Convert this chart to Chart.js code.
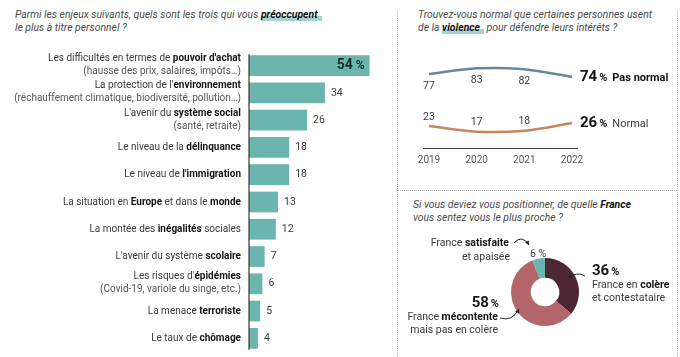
<!DOCTYPE html>
<html><head><meta charset="utf-8">
<script src="https://cdn.jsdelivr.net/npm/chart.js@4/dist/chart.umd.min.js"></script>
<style>
html,body{margin:0;padding:0;background:#fff;width:680px;height:357px;overflow:hidden;font-family:Roboto,sans-serif;}
.t{position:absolute;font-style:italic;font-size:10.4px;line-height:13px;color:#4a4a4a;white-space:nowrap}
.t b{color:#111;font-weight:700}
.hl{background:linear-gradient(transparent 58%, rgba(107,181,176,.6) 58%);padding-right:4px}
canvas{position:absolute}
.dv{position:absolute;width:0;border-left:1px dotted #b0b0b0}
.dh{position:absolute;height:0;border-top:1px dotted #b0b0b0}
</style></head><body>
<div class="t" style="left:15px;top:8px">Parmi les enjeux suivants, quels sont les trois qui vous <b class="hl">préoccupent</b><br>le plus à titre personnel ?</div>
<div class="t" style="left:418px;top:8px">Trouvez-vous normal que certaines personnes usent<br>de la <b class="hl">violence</b> pour défendre leurs intérêts ?</div>
<div class="t" style="left:413px;top:198px">Si vous deviez vous positionner, de quelle <b>France</b><br>vous sentez vous le plus proche ?</div>
<div class="dv" style="left:397px;top:12px;height:345px"></div>
<div class="dv" style="left:677px;top:12px;height:345px"></div>
<div class="dh" style="left:397px;top:190px;width:280px"></div>
<canvas id="bar" width="395" height="357" style="left:0;top:0"></canvas>
<canvas id="line" width="283" height="190" style="left:397px;top:0"></canvas>
<canvas id="donut" width="283" height="167" style="left:397px;top:190px"></canvas>
<script>
// ---- DATA ----
const barLabels = [
  ["Les difficultés en termes de **pouvoir d'achat**", "(hausse des prix, salaires, impôts…)"],
  ["La protection de l'**environnement**", "(réchauffement climatique, biodiversité, pollution…)"],
  ["L'avenir du **système social**", "(santé, retraite)"],
  ["Le niveau de la **délinquance**"],
  ["Le niveau de **l'immigration**"],
  ["La situation en **Europe** et dans le **monde**"],
  ["La montée des **inégalités** sociales"],
  ["L'avenir du système **scolaire**"],
  ["Les risques d'**épidémies**", "(Covid-19, variole du singe, etc.)"],
  ["La menace **terroriste**"],
  ["Le taux de **chômage**"]
];
const barValues = [54, 34, 26, 18, 18, 13, 12, 7, 6, 5, 4];

const years = ["2019", "2020", "2021", "2022"];
const pasNormal = [77, 83, 82, 74];
const normal = [23, 17, 18, 26];
const lineSeriesNames = ["Pas normal", "Normal"];

const donutLabels = ["France en colère et contestataire", "France mécontente mais pas en colère", "France satisfaite et apaisée"];
const donutValues = [36, 58, 6];

// ---- COLORS ----
const TEAL = '#6bb5af', SLATE = '#6c8793', ORANGE = '#c3865f', DARK = '#4d2834', ROSE = '#b3656a';
const FONT = 'Roboto';

function drawRich(ctx, s, x, y, align, size, col, boldCol) {
  const segs = s.split('**').map((t, i) => ({t, b: i % 2 === 1})).filter(p => p.t);
  let w = 0;
  segs.forEach(p => { ctx.font = (p.b ? '700 ' : '400 ') + size + 'px ' + FONT; p.w = ctx.measureText(p.t).width; w += p.w; });
  let cx = align === 'right' ? x - w : align === 'center' ? x - w / 2 : x;
  ctx.textBaseline = 'middle'; ctx.textAlign = 'left';
  segs.forEach(p => {
    ctx.font = (p.b ? '700 ' : '400 ') + size + 'px ' + FONT;
    ctx.fillStyle = p.b ? boldCol : col;
    ctx.fillText(p.t, cx, y); cx += p.w;
  });
  return w;
}

Chart.defaults.font.family = FONT;

// ---- BAR CHART ----
const barPlugin = {
  id: 'barDeco',
  afterDatasetsDraw(chart) {
    const ctx = chart.ctx, meta = chart.getDatasetMeta(0), ys = chart.scales.y, a = chart.chartArea;
    ctx.save();
    const first = meta.data[0], last = meta.data[meta.data.length - 1];
    ctx.strokeStyle = '#333'; ctx.lineWidth = 1.2;
    ctx.beginPath();
    ctx.moveTo(a.left, first.y - first.height / 2 - 1);
    ctx.lineTo(a.left, last.y + last.height / 2 + 1);
    ctx.stroke();
    barLabels.forEach((lines, i) => {
      const cy = ys.getPixelForValue(i);
      const lx = a.left - 8;
      if (lines.length === 1) {
        drawRich(ctx, lines[0], lx, cy, 'right', 10, '#3a3a3a', '#141414');
      } else {
        drawRich(ctx, lines[0], lx, cy - 7, 'right', 10, '#3a3a3a', '#141414');
        drawRich(ctx, lines[1], lx, cy + 6, 'right', 10, '#555', '#141414');
      }
      const el = meta.data[i];
      if (i === 0) {
        ctx.textBaseline = 'middle'; ctx.textAlign = 'right'; ctx.fillStyle = '#16302e';
        ctx.font = '700 12px ' + FONT;
        const pw = ctx.measureText('%').width;
        ctx.fillText('%', el.x - 5, el.y + 0.5);
        ctx.font = '700 14px ' + FONT;
        ctx.fillText(String(barValues[i]), el.x - 5 - pw - 3, el.y);
      } else {
        ctx.textBaseline = 'middle'; ctx.textAlign = 'left'; ctx.fillStyle = '#3a3a3a';
        ctx.font = '400 10.5px ' + FONT;
        ctx.fillText(String(barValues[i]), el.x + 6, el.y);
      }
    });
    ctx.restore();
  }
};
new Chart(document.getElementById('bar'), {
  type: 'bar',
  data: { labels: barLabels, datasets: [{ data: barValues, backgroundColor: TEAL, borderWidth: 0, categoryPercentage: 1, barPercentage: 0.76 }] },
  options: {
    indexAxis: 'y', responsive: false, animation: false, devicePixelRatio: 1,
    layout: { padding: { left: 249, right: 12, top: 52, bottom: 5 } },
    scales: { x: { display: false, min: 0, max: 60 }, y: { display: false } },
    plugins: { legend: { display: false }, tooltip: { enabled: false } }
  },
  plugins: [barPlugin]
});

// ---- LINE CHART ----
const linePlugin = {
  id: 'lineDeco',
  afterDatasetsDraw(chart) {
    const ctx = chart.ctx, a = chart.chartArea, ys = chart.scales.y, xs = chart.scales.x;
    ctx.save();
    const y0 = ys.getPixelForValue(0);
    ctx.strokeStyle = '#444'; ctx.lineWidth = 1;
    ctx.beginPath(); ctx.moveTo(a.left - 6, y0 + 0.5); ctx.lineTo(a.right + 6, y0 + 0.5); ctx.stroke();
    ctx.fillStyle = '#555'; ctx.font = '400 10px ' + FONT; ctx.textAlign = 'center'; ctx.textBaseline = 'middle';
    years.forEach((yr, i) => ctx.fillText(yr, xs.getPixelForValue(i), y0 + 12));
    const m0 = chart.getDatasetMeta(0).data, m1 = chart.getDatasetMeta(1).data;
    ctx.font = '400 10.5px ' + FONT; ctx.fillStyle = '#3a3a3a';
    for (let i = 0; i < years.length - 1; i++) {
      ctx.fillText(String(pasNormal[i]), m0[i].x, m0[i].y + 12);
      ctx.fillText(String(normal[i]), m1[i].x, m1[i].y - 9);
    }
    const n = years.length - 1;
    [[m0[n], pasNormal[n], lineSeriesNames[0], '700'], [m1[n], normal[n], lineSeriesNames[1], '400']].forEach(([p, v, name, w]) => {
      let x = p.x + 8; const y = p.y;
      ctx.textAlign = 'left'; ctx.fillStyle = '#141414';
      ctx.font = '700 15px ' + FONT; ctx.fillText(String(v), x, y); x += ctx.measureText(String(v)).width + 2;
      ctx.font = '700 11px ' + FONT; ctx.fillText('%', x, y + 1); x += ctx.measureText('%').width + 5;
      ctx.font = w + ' 11px ' + FONT; ctx.fillStyle = w === '700' ? '#141414' : '#3a3a3a'; ctx.fillText(name, x, y + 1);
    });
    ctx.restore();
  }
};
new Chart(document.getElementById('line'), {
  type: 'line',
  data: { labels: years, datasets: [
    { data: pasNormal, borderColor: SLATE, borderWidth: 2.5, pointRadius: 0, tension: 0.3, fill: false, clip: false },
    { data: normal, borderColor: ORANGE, borderWidth: 2.5, pointRadius: 0, tension: 0.3, fill: false, clip: false }
  ] },
  options: {
    responsive: false, animation: false, devicePixelRatio: 1,
    layout: { padding: { left: 32, right: 108, top: 52, bottom: 42 } },
    scales: { x: { display: false }, y: { display: false, min: 0, max: 100 } },
    plugins: { legend: { display: false }, tooltip: { enabled: false } }
  },
  plugins: [linePlugin]
});

// ---- DONUT ----
function arrow(ctx, x1, y1, cx, cy, x2, y2) {
  ctx.beginPath(); ctx.moveTo(x1, y1); ctx.quadraticCurveTo(cx, cy, x2, y2); ctx.stroke();
  const ang = Math.atan2(y2 - cy, x2 - cx), L = 4.5;
  ctx.beginPath();
  ctx.moveTo(x2, y2);
  ctx.lineTo(x2 - L * Math.cos(ang - 0.5), y2 - L * Math.sin(ang - 0.5));
  ctx.lineTo(x2 - L * Math.cos(ang + 0.5), y2 - L * Math.sin(ang + 0.5));
  ctx.closePath(); ctx.fill();
}
const donutPlugin = {
  id: 'donutDeco',
  afterDatasetsDraw(chart) {
    const ctx = chart.ctx, el = chart.getDatasetMeta(0).data[0];
    const X = el.x, Y = el.y;
    ctx.save();
    const C = '#3a3a3a', B = '#141414';
    // satisfaite
    drawRich(ctx, 'France **satisfaite**', X - 36, Y - 49, 'right', 10.5, C, B);
    drawRich(ctx, 'et apaisée', X - 35, Y - 35, 'right', 10.5, C, B);
    ctx.font = '400 10.5px ' + FONT; ctx.fillStyle = C; ctx.textAlign = 'center'; ctx.textBaseline = 'middle';
    ctx.fillText(donutValues[2] + ' %', X - 7, Y - 38);
    // colère
    let x = X + 47;
    ctx.textAlign = 'left'; ctx.fillStyle = B;
    ctx.font = '700 15px ' + FONT; ctx.fillText(String(donutValues[0]), x, Y - 21);
    let w = ctx.measureText(String(donutValues[0])).width;
    ctx.font = '700 11px ' + FONT; ctx.fillText('%', x + w + 2, Y - 20);
    drawRich(ctx, 'France en **colère**', x, Y - 7, 'left', 10.5, C, B);
    drawRich(ctx, 'et contestataire', x, Y + 6, 'left', 10.5, C, B);
    // mécontente
    ctx.font = '700 11px ' + FONT; ctx.textAlign = 'right'; ctx.fillStyle = B;
    const pw = ctx.measureText('%').width;
    ctx.fillText('%', X - 46, Y + 12);
    ctx.font = '700 15px ' + FONT; ctx.fillText(String(donutValues[1]), X - 46 - pw - 2, Y + 11);
    drawRich(ctx, 'France **mécontente**', X - 47, Y + 25, 'right', 10.5, C, B);
    drawRich(ctx, 'mais pas en colère', X - 47, Y + 38, 'right', 10.5, C, B);
    // arrows
    ctx.strokeStyle = '#222'; ctx.fillStyle = '#222'; ctx.lineWidth = 1;
    arrow(ctx, X - 31, Y - 49, X - 23, Y - 58, X - 16, Y - 47);
    arrow(ctx, X + 40, Y - 16, X + 32, Y - 21, X + 23, Y - 14);
    arrow(ctx, X - 45, Y + 26, X - 33, Y + 30, X - 26, Y + 17);
    ctx.restore();
  }
};
new Chart(document.getElementById('donut'), {
  type: 'doughnut',
  data: { labels: donutLabels, datasets: [{ data: donutValues, backgroundColor: [DARK, ROSE, TEAL], borderWidth: 0 }] },
  options: {
    responsive: false, animation: false, devicePixelRatio: 1, cutout: '42%',
    layout: { padding: { left: 114, right: 101, top: 68, bottom: 31 } },
    plugins: { legend: { display: false }, tooltip: { enabled: false } }
  },
  plugins: [donutPlugin]
});
</script>
</body></html>
